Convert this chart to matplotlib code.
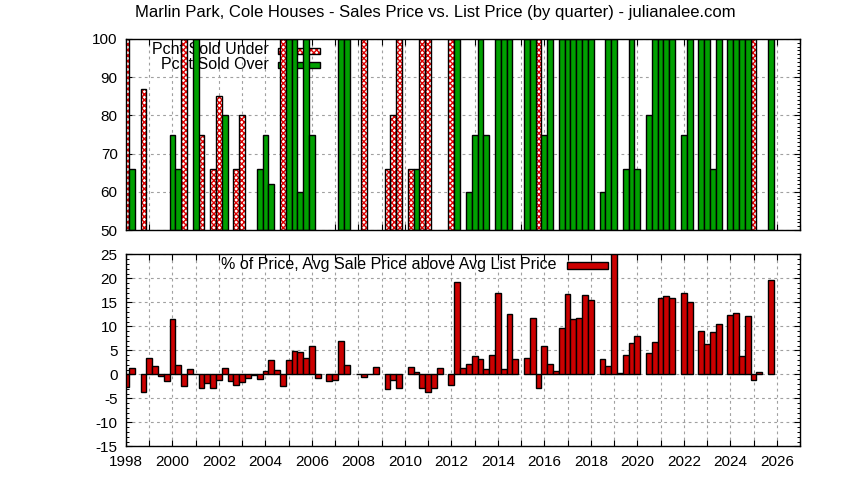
import matplotlib
matplotlib.use("Agg")
import matplotlib.pyplot as plt
from matplotlib.patches import Rectangle
from matplotlib.ticker import MultipleLocator, FixedLocator

plt.rcParams['font.family'] = ['Liberation Sans', 'DejaVu Sans']
plt.rcParams['hatch.linewidth'] = 1.0
plt.rcParams['axes.unicode_minus'] = False

title = "Marlin Park, Cole Houses - Sales Price vs. List Price (by quarter) - julianalee.com"
label_under = "Pcnt Sold Under"
label_over = "Pcnt Sold Over"
label_pct = "% of Price, Avg Sale Price above Avg List Price"

# Top panel: percent of sales under / over list (quarter as decimal year)
under_q = [1998.0, 1998.75, 2000.5, 2001.25, 2001.75, 2002.0, 2002.75, 2003.0, 2004.75,
           2008.25, 2009.25, 2009.5, 2009.75, 2010.25, 2010.75, 2011.0, 2012.0, 2015.75, 2025.0]
under_v = [100, 87, 100, 75, 66, 85, 66, 80, 100,
           100, 66, 80, 100, 66, 100, 100, 100, 100, 100]

over_q = [1998.25, 2000.0, 2000.25, 2001.0, 2002.25, 2003.75, 2004.0, 2004.25, 2005.0, 2005.25,
          2005.5, 2005.75, 2006.0, 2007.25, 2007.5, 2010.5, 2012.25, 2012.75, 2013.0, 2013.25,
          2013.5, 2014.0, 2014.25, 2014.5, 2015.25, 2015.5, 2016.0, 2016.25, 2016.75, 2017.0,
          2017.25, 2017.5, 2017.75, 2018.0, 2018.5, 2018.75, 2019.0, 2019.5, 2019.75, 2020.0,
          2020.5, 2020.75, 2021.0, 2021.25, 2021.5, 2022.0, 2022.25, 2022.75, 2023.0, 2023.25,
          2023.5, 2024.0, 2024.25, 2024.5, 2024.75, 2025.75]
over_v = [66, 75, 66, 100, 80, 66, 75, 62, 100, 100,
          60, 100, 75, 100, 100, 66, 100, 60, 75, 100,
          75, 100, 100, 100, 100, 100, 75, 100, 100, 100,
          100, 100, 100, 100, 60, 100, 100, 66, 100, 66,
          80, 100, 100, 100, 100, 75, 100, 100, 100, 66,
          100, 100, 100, 100, 100, 100]

# Bottom panel: % avg sale price above avg list price
pct_q = [1998.0, 1998.25, 1998.75, 1999.0, 1999.25, 1999.5, 1999.75, 2000.0, 2000.25, 2000.5,
         2000.75, 2001.0, 2001.25, 2001.5, 2001.75, 2002.0, 2002.25, 2002.5, 2002.75, 2003.0,
         2003.25, 2003.5, 2003.75, 2004.0, 2004.25, 2004.5, 2004.75, 2005.0, 2005.25, 2005.5,
         2005.75, 2006.0, 2006.25, 2006.75, 2007.0, 2007.25, 2007.5, 2008.0, 2008.25, 2008.5,
         2008.75, 2009.25, 2009.5, 2009.75, 2010.25, 2010.5, 2010.75, 2011.0, 2011.25, 2011.5,
         2012.0, 2012.25, 2012.5, 2012.75, 2013.0, 2013.25, 2013.5, 2013.75, 2014.0, 2014.25,
         2014.5, 2014.75, 2015.25, 2015.5, 2015.75, 2016.0, 2016.25, 2016.5, 2016.75, 2017.0,
         2017.25, 2017.5, 2017.75, 2018.0, 2018.5, 2018.75, 2019.0, 2019.25, 2019.5, 2019.75,
         2020.0, 2020.5, 2020.75, 2021.0, 2021.25, 2021.5, 2022.0, 2022.25, 2022.75, 2023.0,
         2023.25, 2023.5, 2024.0, 2024.25, 2024.5, 2024.75, 2025.0, 2025.25, 2025.75]
pct_v = [-2.7, 1.25, -3.75, 3.33, 1.67, -0.4, -1.46, 11.46, 1.9, -2.5,
         1.04, 0.0, -2.9, -1.9, -2.9, -1.25, 1.25, -1.46, -2.3, -1.5,
         -0.8, -0.2, -1.0, 0.6, 2.9, 0.8, -2.5, 2.9, 4.8, 4.6,
         3.3, 5.8, -0.8, -1.46, -1.25, 6.9, 1.9, 0.0, -0.6, 0.0,
         1.46, -3.1, -1.25, -2.9, 1.46, 0.4, -2.9, -3.75, -2.9, 1.25,
         -2.3, 19.2, 1.25, 2.1, 3.75, 3.1, 1.04, 4.0, 16.9, 1.04,
         12.5, 3.1, 3.5, 11.7, -2.9, 6.0, 2.1, 0.6, 9.6, 16.7,
         11.5, 11.7, 16.5, 15.4, 3.1, 1.67, 27.0, 0.2, 4.0, 6.5,
         7.9, 4.4, 6.7, 15.8, 16.25, 15.8, 16.9, 15.0, 8.96, 6.25,
         8.75, 10.4, 12.3, 12.7, 3.75, 12.1, -1.25, 0.4, 19.6]

year_ticks = list(range(1998, 2028))
year_labels = [str(y) if y % 2 == 0 else "" for y in year_ticks]

RED_HATCH = '#e00000'
GREEN = '#00a000'
DARKRED = '#cc0000'
W = 0.25
FS_TICK = 11
FS_KEY = 11.5
FS_TITLE = 12

fig = plt.figure(figsize=(8.44, 4.8), dpi=100)
W_PX, H_PX = 844, 480

def fx(px):
    return px / W_PX

def fy(py):
    return 1 - py / H_PX

ax1 = fig.add_axes([fx(126), fy(230), fx(800) - fx(126), fy(39) - fy(230)])
ax2 = fig.add_axes([fx(126), fy(446.3), fx(800) - fx(126), fy(254.3) - fy(446.3)])

grid_kw = dict(color='#a0a0a0', linestyle=(0, (2.5, 3)), linewidth=0.8)

for ax in (ax1, ax2):
    ax.set_axisbelow(True)
    ax.set_xlim(1998, 2027)
    ax.xaxis.set_major_locator(FixedLocator(year_ticks))
    ax.grid(True, which='major', **grid_kw)
    ax.tick_params(which='major', direction='in', length=4.5, width=0.8,
                   top=True, right=True, labelsize=FS_TICK, colors='black')
    ax.tick_params(which='minor', direction='in', length=2.2, width=0.7)
    for s in ax.spines.values():
        s.set_linewidth(1.0)
        s.set_color('black')

# ---- top panel ----
ax1.set_ylim(50, 100)
ax1.yaxis.set_major_locator(MultipleLocator(10))
ax1.yaxis.set_minor_locator(MultipleLocator(1))
ax1.tick_params(which='minor', left=False, right=True)
ax1.tick_params(axis='y', pad=6)
ax1.set_xticklabels([])

# hatch layer then outline
ax1.bar(under_q, [v - 50 for v in under_v], bottom=50, width=W, facecolor='white',
        edgecolor=RED_HATCH, hatch='xxxxxx', linewidth=0, zorder=2)
ax1.bar(under_q, [v - 50 for v in under_v], bottom=50, width=W, fill=False,
        edgecolor='black', linewidth=1.0, zorder=2.1)
ax1.bar(over_q, [v - 50 for v in over_v], bottom=50, width=W, facecolor=GREEN,
        edgecolor='black', linewidth=1.0, zorder=2.2)

def px_to_data(ax, px, py):
    disp = fig.transFigure.transform((fx(px), fy(py)))
    return ax.transData.inverted().transform(disp)

# key (drawn beneath bars, as in reference)
ax1.text(*px_to_data(ax1, 269, 50), label_under, ha='right', va='center',
         fontsize=FS_KEY, zorder=1, clip_on=False)
ax1.text(*px_to_data(ax1, 269, 65), label_over, ha='right', va='center',
         fontsize=FS_KEY, zorder=1, clip_on=False)

x0, y0 = px_to_data(ax1, 278, 54)
x1, y1 = px_to_data(ax1, 320, 48)
ax1.add_patch(Rectangle((x0, y0), x1 - x0, y1 - y0, facecolor='white', edgecolor=RED_HATCH,
                        hatch='xxxxxx', linewidth=0, zorder=1, clip_on=False))
ax1.add_patch(Rectangle((x0, y0), x1 - x0, y1 - y0, fill=False, edgecolor='black',
                        linewidth=1.0, zorder=1, clip_on=False))
x0, y0 = px_to_data(ax1, 278, 68)
x1, y1 = px_to_data(ax1, 320, 62)
ax1.add_patch(Rectangle((x0, y0), x1 - x0, y1 - y0, facecolor=GREEN, edgecolor='black',
                        linewidth=1.0, zorder=1, clip_on=False))

# ---- bottom panel ----
ax2.set_ylim(-15, 25)
ax2.yaxis.set_major_locator(MultipleLocator(5))
ax2.yaxis.set_minor_locator(MultipleLocator(1))
ax2.tick_params(which='minor', left=True, right=True)
ax2.tick_params(axis='y', pad=6)
ax2.tick_params(axis='x', pad=6)
ax2.set_xticklabels(year_labels)

ax2.bar(pct_q, pct_v, width=W, facecolor=DARKRED, edgecolor='black', linewidth=1.0, zorder=2)

ax2.text(*px_to_data(ax2, 557, 265), label_pct, ha='right', va='center',
         fontsize=FS_KEY, zorder=1, clip_on=False)
x0, y0 = px_to_data(ax2, 567, 269)
x1, y1 = px_to_data(ax2, 608, 262)
ax2.add_patch(Rectangle((x0, y0), x1 - x0, y1 - y0, facecolor=DARKRED, edgecolor='black',
                        linewidth=1.0, zorder=1, clip_on=False))

fig.text(fx(435), fy(13), title, ha='center', va='center', fontsize=FS_TITLE)

fig.savefig("out.png", dpi=100)
